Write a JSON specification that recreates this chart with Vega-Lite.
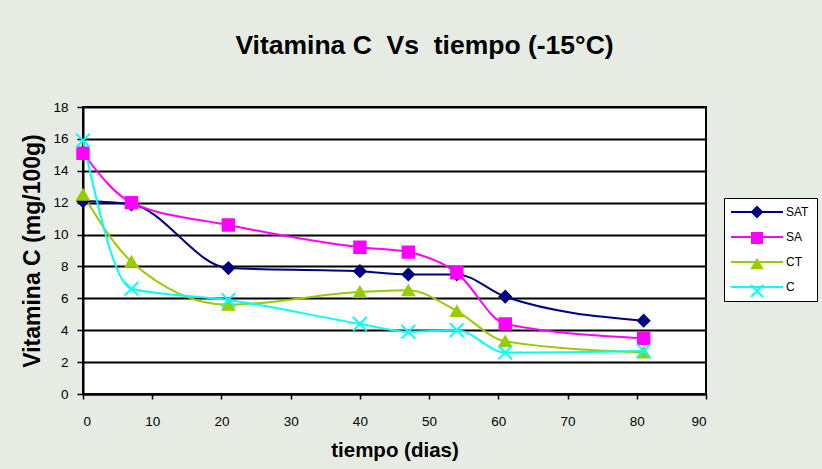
{
  "$schema": "https://vega.github.io/schema/vega-lite/v6.json",
  "width": 623,
  "height": 287,
  "autosize": {"type": "none"},
  "padding": {"left": 83, "top": 107, "right": 116, "bottom": 75},
  "background": "#e6ece4",
  "title": {
    "text": "Vitamina C\u00a0\u00a0Vs\u00a0\u00a0tiempo (-15°C)",
    "font": "Liberation Sans",
    "fontSize": 26.5,
    "fontWeight": "bold",
    "color": "#000000",
    "anchor": "middle",
    "dx": 30,
    "offset": 41
  },
  "config": {
    "view": {"fill": "#ffffff", "stroke": "#000000", "strokeWidth": 2},
    "font": "Liberation Sans"
  },
  "data": {
    "values": [
      {"serie": "SAT", "dias": 0, "vitc": 12.1},
      {"serie": "SAT", "dias": 7, "vitc": 11.9},
      {"serie": "SAT", "dias": 21, "vitc": 7.9},
      {"serie": "SAT", "dias": 40, "vitc": 7.7},
      {"serie": "SAT", "dias": 47, "vitc": 7.5},
      {"serie": "SAT", "dias": 54, "vitc": 7.5},
      {"serie": "SAT", "dias": 61, "vitc": 6.1},
      {"serie": "SAT", "dias": 81, "vitc": 4.6},
      {"serie": "SA", "dias": 0, "vitc": 15.1},
      {"serie": "SA", "dias": 7, "vitc": 12.0},
      {"serie": "SA", "dias": 21, "vitc": 10.6},
      {"serie": "SA", "dias": 40, "vitc": 9.2},
      {"serie": "SA", "dias": 47, "vitc": 8.9},
      {"serie": "SA", "dias": 54, "vitc": 7.6},
      {"serie": "SA", "dias": 61, "vitc": 4.4},
      {"serie": "SA", "dias": 81, "vitc": 3.5},
      {"serie": "CT", "dias": 0, "vitc": 12.5},
      {"serie": "CT", "dias": 7, "vitc": 8.3},
      {"serie": "CT", "dias": 21, "vitc": 5.6},
      {"serie": "CT", "dias": 40, "vitc": 6.4},
      {"serie": "CT", "dias": 47, "vitc": 6.5},
      {"serie": "CT", "dias": 54, "vitc": 5.2},
      {"serie": "CT", "dias": 61, "vitc": 3.3},
      {"serie": "CT", "dias": 81, "vitc": 2.6},
      {"serie": "C", "dias": 0, "vitc": 15.9},
      {"serie": "C", "dias": 7, "vitc": 6.6},
      {"serie": "C", "dias": 21, "vitc": 5.9},
      {"serie": "C", "dias": 40, "vitc": 4.4},
      {"serie": "C", "dias": 47, "vitc": 3.9},
      {"serie": "C", "dias": 54, "vitc": 4.0},
      {"serie": "C", "dias": 61, "vitc": 2.6},
      {"serie": "C", "dias": 81, "vitc": 2.7}
    ]
  },
  "encoding": {
    "x": {
      "field": "dias",
      "type": "quantitative",
      "scale": {"domain": [0, 90], "nice": false},
      "axis": {
        "title": "tiempo (dias)",
        "values": [0, 10, 20, 30, 40, 50, 60, 70, 80, 90],
        "grid": false,
        "domainColor": "#000000",
        "domainWidth": 2,
        "tickColor": "#000000",
        "tickWidth": 1.5,
        "tickSize": 5,
        "labelFont": "Liberation Sans",
        "labelFontSize": 13.5,
        "labelColor": "#000000",
        "labelPadding": 15,
        "titleFont": "Liberation Sans",
        "titleFontSize": 20.5,
        "titleFontWeight": "bold",
        "titleColor": "#000000",
        "titlePadding": 13
      }
    },
    "y": {
      "field": "vitc",
      "type": "quantitative",
      "scale": {"domain": [0, 18], "nice": false},
      "axis": {
        "title": "Vitamina C (mg/100g)",
        "values": [0, 2, 4, 6, 8, 10, 12, 14, 16, 18],
        "grid": true,
        "gridColor": "#000000",
        "gridWidth": 2,
        "gridOpacity": 1,
        "domainColor": "#000000",
        "domainWidth": 2,
        "tickColor": "#000000",
        "tickWidth": 1.5,
        "tickSize": 6,
        "labelFont": "Liberation Sans",
        "labelFontSize": 13.5,
        "labelColor": "#000000",
        "labelPadding": 9,
        "titleFont": "Liberation Sans",
        "titleFontSize": 23,
        "titleFontWeight": "bold",
        "titleColor": "#000000",
        "titlePadding": 8
      }
    }
  },
  "layer": [
    {
      "mark": {"type": "line", "interpolate": "monotone", "strokeWidth": 2},
      "encoding": {
        "color": {
          "field": "serie",
          "type": "nominal",
          "sort": "descending",
          "scale": {"range": ["#000080", "#ff00ff", "#99cc00", "#00ffff"]},
          "legend": {
            "title": null,
            "orient": "none",
            "legendX": 641,
            "legendY": 91,
            "fillColor": "#ffffff",
            "strokeColor": "#000000",
            "padding": 8,
            "rowPadding": 13,
            "labelFont": "Liberation Sans",
            "labelFontSize": 12,
            "labelColor": "#000000",
            "labelOffset": 23,
            "symbolType": "M-5.2,0H5.2",
            "symbolSize": 100,
            "symbolOffset": 19,
            "symbolStrokeWidth": 2,
            "zindex": 0
          }
        }
      }
    },
    {
      "mark": {"type": "point", "filled": true, "opacity": 1, "size": 130, "strokeWidth": 2},
      "encoding": {
        "fill": {
          "field": "serie",
          "type": "nominal",
          "scale": {"domain": ["SAT", "SA", "CT", "C"], "range": ["#000080", "#ff00ff", "#99cc00", "#00ffff"]},
          "legend": {
            "title": null,
            "orient": "none",
            "legendX": 641,
            "legendY": 91,
            "padding": 8,
            "rowPadding": 8,
            "labelFont": "Liberation Sans",
            "labelFontSize": 12,
            "labelExpr": "''",
            "labelOffset": 23,
            "symbolSize": 100,
            "symbolOffset": 19,
            "symbolStrokeWidth": 2,
            "zindex": 1
          }
        },
        "stroke": {
          "field": "serie",
          "type": "nominal",
          "scale": {"domain": ["SAT", "SA", "CT", "C"], "range": ["#000080", "#ff00ff", "#99cc00", "#00ffff"]}
        },
        "shape": {
          "field": "serie",
          "type": "nominal",
          "scale": {
            "domain": ["SAT", "SA", "CT", "C"],
            "range": ["diamond", "square", "triangle-up", "M-1.2,-1.2L1.2,1.2M1.2,-1.2L-1.2,1.2"]
          }
        }
      }
    }
  ]
}
